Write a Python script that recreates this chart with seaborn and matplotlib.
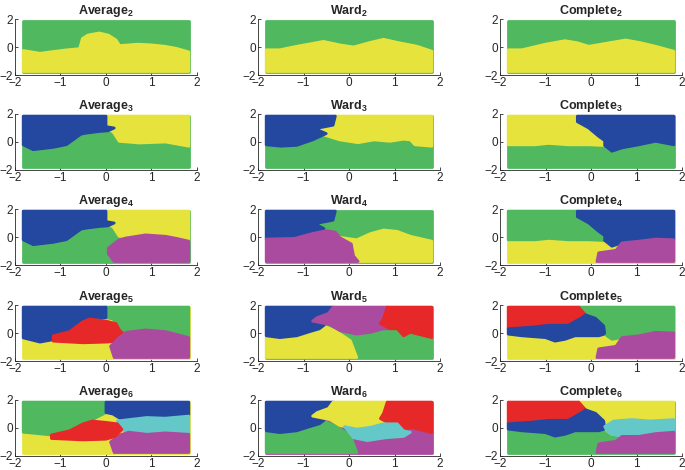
import matplotlib
matplotlib.use("Agg")
import matplotlib.pyplot as plt
import seaborn as sns

sns.set_style("ticks")
plt.rcParams['font.family'] = ['Liberation Sans', 'DejaVu Sans']
plt.rcParams['mathtext.fontset'] = 'custom'
plt.rcParams['mathtext.rm'] = 'Liberation Sans'
plt.rcParams['mathtext.bf'] = 'Liberation Sans:bold'

GREEN = '#50b95f'
YELLOW = '#e6e43c'
BLUE = '#2448a0'
PURPLE = '#aa4ba0'
RED = '#e62828'
CYAN = '#64c8c8'

methods = ['Average', 'Ward', 'Complete']
n_clusters = [2, 3, 4, 5, 6]
x_ticks = [-2, -1, 0, 1, 2]
y_ticks = [-2, 0, 2]

# cluster regions (x, y vertices), drawn in order
full_rect = [(-1.82, -1.75), (-1.82, 1.85), (1.82, 1.85), (1.82, -1.75)]

avg2_yellow = [(-1.82, -0.25), (-1.45, -0.45), (-1.1, -0.3), (-0.85, -0.2), (-0.58, -0.12),
               (-0.52, 0.6), (-0.4, 0.85), (-0.15, 1.0), (0.05, 0.85), (0.22, 0.5), (0.3, 0.1),
               (0.7, 0.2), (1.0, 0.15), (1.3, 0.05), (1.55, -0.1), (1.82, -0.35),
               (1.82, -1.75), (-1.82, -1.75)]
ward2_yellow = [(-1.82, -0.2), (-1.52, -0.2), (-1.15, 0.05), (-0.56, 0.4), (-0.2, 0.15),
                (0.1, 0.0), (0.47, 0.33), (0.76, 0.55), (1.06, 0.33), (1.5, 0.05),
                (1.82, -0.3), (1.82, -1.75), (-1.82, -1.75)]
comp2_yellow = [(-1.82, -0.2), (-1.52, -0.2), (-1.0, 0.2), (-0.57, 0.45), (-0.3, 0.3),
                (-0.05, 0.05), (0.4, 0.3), (0.76, 0.5), (1.1, 0.3), (1.42, 0.05),
                (1.82, -0.3), (1.82, -1.75), (-1.82, -1.75)]

avg3_yellow = [(0.0, 1.85), (1.82, 1.85), (1.82, -0.3), (1.31, 0.0), (0.73, -0.07),
               (0.29, 0.05), (0.15, 0.75), (0.0, 0.9)]
avg3_blue = [(-1.82, 1.85), (0.0, 1.85), (0.0, 1.1), (0.18, 1.0), (0.05, 0.8), (-0.15, 0.75),
             (-0.44, 0.63), (-0.55, 0.56), (-0.87, -0.19), (-1.16, -0.38), (-1.6, -0.55),
             (-1.82, -0.2)]

ward3_yellow = [(-0.3, 1.85), (1.82, 1.85), (1.82, -0.3), (1.45, -0.2), (1.35, 0.15),
                (1.2, 0.2), (0.9, 0.05), (0.55, 0.15), (0.2, -0.05), (-0.2, 0.15),
                (-0.55, 0.5), (-0.75, 0.95), (-0.35, 1.2)]
ward3_blue = [(-1.82, 1.85), (-0.3, 1.85), (-0.35, 1.2), (-0.75, 0.95), (-0.5, 0.6),
              (-0.8, 0.15), (-1.15, -0.24), (-1.5, -0.3), (-1.82, -0.2)]

comp3_yellow = [(-1.82, 1.85), (-0.3, 1.85), (-0.3, 1.45), (-0.05, 1.0), (0.17, 0.4),
                (0.3, -0.1), (0.3, -0.25), (-0.05, -0.2), (-0.5, -0.2), (-0.93, -0.1),
                (-1.23, -0.2), (-1.82, -0.2)]
comp3_blue = [(-0.3, 1.85), (1.82, 1.85), (1.82, -0.2), (1.42, 0.05), (1.05, -0.2),
              (0.68, -0.42), (0.46, -0.66), (0.3, -0.25), (0.3, 0.1), (0.17, 0.4),
              (-0.05, 1.0), (-0.3, 1.45)]

avg4_purple = [(0.18, -1.75), (0.05, -1.2), (0.05, -0.8), (0.29, -0.2), (0.44, -0.07),
               (0.87, 0.15), (1.31, 0.05), (1.55, -0.1), (1.82, -0.3), (1.82, -1.75)]

ward4_yellow = [(-0.25, 0.0), (0.17, -0.2), (0.47, 0.24), (0.76, 0.5), (1.06, 0.4),
                (1.35, 0.05), (1.82, -0.3), (1.82, -1.75), (0.2, -1.75)]
ward4_blue = [(-1.82, 1.85), (-0.3, 1.85), (-0.35, 1.2), (-0.75, 0.95), (-0.55, 0.6),
              (-0.8, 0.25), (-1.2, -0.1), (-1.82, -0.15)]
ward4_purple = [(-1.82, -1.75), (-1.82, -0.15), (-1.2, -0.1), (-0.8, 0.25), (-0.5, 0.45),
                (-0.3, 0.35), (-0.2, -0.05), (0.05, -0.5), (0.1, -1.35), (0.2, -1.75)]

comp4_blue = [(-0.3, 1.85), (1.82, 1.85), (1.82, -0.2), (1.42, -0.15), (1.05, -0.3),
              (0.68, -0.42), (0.46, -0.66), (0.3, -0.25), (0.3, 0.1), (0.17, 0.4),
              (-0.05, 1.0), (-0.3, 1.45)]
comp4_purple = [(0.13, -1.75), (0.17, -1.13), (0.55, -0.95), (0.68, -0.42), (1.05, -0.3),
                (1.42, -0.15), (1.82, -0.2), (1.82, -1.75)]

avg5_green = [(0.0, 1.85), (1.82, 1.85), (1.82, -0.33), (1.31, 0.1), (0.87, 0.22),
              (0.44, 0.05), (0.3, 0.4), (0.15, 1.0), (0.0, 1.1)]
avg5_blue = [(-1.82, 1.85), (0.0, 1.85), (0.0, 1.1), (-0.3, 0.95), (-0.5, 0.6), (-0.6, 0.3),
             (-0.87, -0.3), (-1.45, -0.65), (-1.82, -0.35)]
avg5_red = [(-1.16, -0.2), (-0.8, 0.1), (-0.51, 0.8), (-0.36, 1.0), (0.0, 0.85), (0.22, 0.67),
            (0.3, 0.2), (0.44, -0.2), (0.2, -0.6), (0.0, -0.65), (-0.5, -0.7), (-1.16, -0.58)]
avg5_purple = [(0.18, -1.75), (0.1, -0.95), (0.29, -0.33), (0.44, 0.05), (0.87, 0.22),
               (1.31, 0.1), (1.82, -0.33), (1.82, -1.75)]

ward5_yellow = [(-1.82, -1.75), (-1.82, -0.3), (-1.15, -0.3), (-0.78, 0.17), (-0.49, 0.42),
                (-0.27, 0.1), (0.03, -0.55), (0.17, -1.75)]
ward5_blue = [(-1.82, 1.85), (-0.35, 1.85), (-0.45, 1.4), (-0.8, 1.05), (-0.55, 0.55),
              (-0.65, 0.3), (-0.86, 0.1), (-1.15, -0.2), (-1.52, -0.33), (-1.82, -0.2)]
ward5_purple = [(-0.35, 1.85), (0.84, 1.85), (0.76, 1.05), (0.69, 0.67), (0.91, 0.3),
                (0.76, 0.3), (0.47, 0.05), (0.17, -0.08), (-0.2, 0.17), (-0.42, 0.6),
                (-0.8, 0.85), (-0.7, 1.1), (-0.45, 1.4)]
ward5_red = [(0.84, 1.85), (1.82, 1.85), (1.82, -0.33), (1.35, 0.05), (1.2, -0.2),
             (1.06, 0.3), (0.91, 0.3), (0.69, 0.67), (0.76, 1.05)]

comp5_green = [(-0.27, 1.85), (1.82, 1.85), (1.82, 0.0), (1.42, 0.05), (1.05, -0.2),
               (0.68, -0.33), (0.46, -0.45), (0.35, -0.2), (0.3, 0.0), (0.28, 0.5),
               (0.1, 1.05), (-0.12, 1.3)]
comp5_red = [(-1.82, 1.85), (-0.27, 1.85), (-0.12, 1.3), (-0.2, 1.1), (-0.5, 0.55),
             (-0.93, 0.55), (-1.3, 0.42), (-1.82, 0.3)]
comp5_blue = [(-1.82, 0.3), (-1.3, 0.42), (-0.93, 0.55), (-0.5, 0.55), (-0.2, 1.1),
              (-0.12, 1.3), (0.1, 1.05), (0.28, 0.5), (0.3, 0.0), (0.28, -0.1), (0.17, -0.2),
              (-0.35, -0.2), (-0.57, -0.45), (-0.79, -0.58), (-1.0, -0.33), (-1.52, -0.2),
              (-1.82, -0.08)]
comp5_purple = [(0.13, -1.75), (0.17, -1.13), (0.55, -0.95), (0.68, -0.33), (1.05, -0.2),
                (1.42, 0.05), (1.82, 0.0), (1.82, -1.75)]

avg6_green = [(-1.82, 1.85), (0.0, 1.85), (0.0, 1.1), (-0.3, 0.6), (-0.5, 0.3), (-0.8, -0.2),
              (-1.2, -0.5), (-1.5, -0.4), (-1.82, -0.3)]
avg6_blue = [(0.0, 1.85), (1.82, 1.85), (1.82, 0.9), (1.3, 0.7), (0.9, 0.75), (0.5, 0.6),
             (0.3, 0.7), (0.15, 1.0), (0.0, 1.1)]
avg6_cyan = [(0.25, 0.5), (0.5, 0.6), (0.9, 0.75), (1.3, 0.7), (1.82, 0.85), (1.82, -0.45),
             (1.3, -0.3), (0.9, -0.4), (0.5, -0.25), (0.3, -0.1)]
avg6_red = [(-1.2, -0.5), (-0.8, -0.2), (-0.5, 0.3), (-0.3, 0.5), (0.0, 0.4), (0.25, 0.3),
            (0.35, -0.1), (0.2, -0.6), (0.0, -0.8), (-0.5, -0.85), (-1.2, -0.75)]
avg6_purple = [(0.18, -1.75), (0.1, -1.0), (0.3, -0.5), (0.5, -0.3), (0.9, -0.45),
               (1.3, -0.35), (1.82, -0.45), (1.82, -1.75)]

ward6_cyan = [(-0.1, 0.1), (0.17, -0.08), (0.47, 0.05), (0.76, 0.3), (1.06, 0.3),
              (1.2, -0.2), (1.35, -0.3), (1.2, -0.6), (0.8, -0.7), (0.4, -0.9), (0.1, -0.7)]

comp6_cyan = [(0.3, 0.1), (0.5, 0.5), (0.9, 0.6), (1.3, 0.5), (1.82, 0.6), (1.82, -0.3),
              (1.42, -0.4), (1.05, -0.6), (0.68, -0.6), (0.46, -0.45), (0.35, -0.2)]
comp6_purple = [(0.13, -1.75), (0.17, -1.13), (0.55, -0.95), (0.68, -0.6), (1.05, -0.6),
                (1.42, -0.4), (1.82, -0.3), (1.82, -1.75)]

layers = {
    ('Average', 2): [(GREEN, full_rect), (YELLOW, avg2_yellow)],
    ('Ward', 2): [(GREEN, full_rect), (YELLOW, ward2_yellow)],
    ('Complete', 2): [(GREEN, full_rect), (YELLOW, comp2_yellow)],
    ('Average', 3): [(GREEN, full_rect), (YELLOW, avg3_yellow), (BLUE, avg3_blue)],
    ('Ward', 3): [(GREEN, full_rect), (YELLOW, ward3_yellow), (BLUE, ward3_blue)],
    ('Complete', 3): [(GREEN, full_rect), (YELLOW, comp3_yellow), (BLUE, comp3_blue)],
    ('Average', 4): [(GREEN, full_rect), (YELLOW, avg3_yellow), (BLUE, avg3_blue),
                     (PURPLE, avg4_purple)],
    ('Ward', 4): [(GREEN, full_rect), (YELLOW, ward4_yellow), (BLUE, ward4_blue),
                  (PURPLE, ward4_purple)],
    ('Complete', 4): [(YELLOW, full_rect), (GREEN, comp3_yellow), (BLUE, comp4_blue),
                      (PURPLE, comp4_purple)],
    ('Average', 5): [(YELLOW, full_rect), (GREEN, avg5_green), (BLUE, avg5_blue),
                     (RED, avg5_red), (PURPLE, avg5_purple)],
    ('Ward', 5): [(GREEN, full_rect), (YELLOW, ward5_yellow), (BLUE, ward5_blue),
                  (PURPLE, ward5_purple), (RED, ward5_red)],
    ('Complete', 5): [(YELLOW, full_rect), (GREEN, comp5_green), (RED, comp5_red),
                      (BLUE, comp5_blue), (PURPLE, comp5_purple)],
    ('Average', 6): [(YELLOW, full_rect), (GREEN, avg6_green), (BLUE, avg6_blue),
                     (CYAN, avg6_cyan), (PURPLE, avg6_purple), (RED, avg6_red)],
    ('Ward', 6): [(PURPLE, full_rect), (GREEN, ward5_yellow), (BLUE, ward5_blue),
                  (YELLOW, ward5_purple), (RED, ward5_red), (CYAN, ward6_cyan)],
    ('Complete', 6): [(GREEN, full_rect), (YELLOW, comp5_green), (RED, comp5_red),
                      (BLUE, comp5_blue), (CYAN, comp6_cyan), (PURPLE, comp6_purple)],
}

fig = plt.figure(figsize=(6.85, 4.7), dpi=100)
col_left = [15, 258, 500]
row_top = [19, 114, 209, 305, 400]
ax_w, ax_h = 182, 56

for r, k in enumerate(n_clusters):
    for c, m in enumerate(methods):
        ax = fig.add_axes([col_left[c] / 685, 1 - (row_top[r] + ax_h) / 470,
                           ax_w / 685, ax_h / 470])
        for color, poly in layers[(m, k)]:
            xs = [p[0] for p in poly]
            ys = [p[1] for p in poly]
            ax.fill(xs, ys, facecolor=color, edgecolor=color, linewidth=2.0,
                    joinstyle='round')
        ax.set_xlim(-2, 2)
        ax.set_ylim(-2, 2)
        ax.set_xticks(x_ticks)
        ax.set_yticks(y_ticks)
        ax.tick_params(direction='in', length=2.5, width=0.6, labelsize=8.5,
                       colors='#262626', pad=1.5)
        for s in ['left', 'bottom']:
            ax.spines[s].set_linewidth(0.6)
            ax.spines[s].set_color('#262626')
        sns.despine(ax=ax)
        ax.set_title(m + r'$_\mathbf{%d}$' % k, fontsize=9, fontweight='bold', pad=3)

fig.savefig('out.png', dpi=100)
